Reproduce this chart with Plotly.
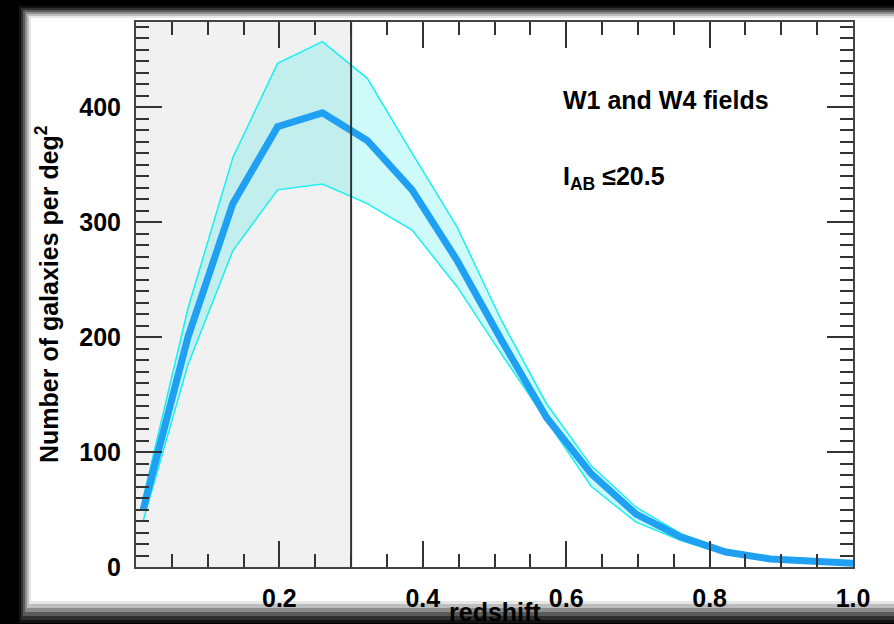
import plotly.graph_objects as go

# ---- data ----
redshift = [0.01, 0.0725, 0.135, 0.1975, 0.26, 0.3225, 0.385, 0.4475, 0.51,
            0.5725, 0.635, 0.6975, 0.76, 0.8225, 0.885, 0.9475, 1.01]
density = [50, 200, 316, 383, 395, 371, 328, 267, 197,
           130, 81, 46, 26, 13, 7, 4.5, 3]
upper = [60, 225, 356, 438, 457, 425, 360, 296, 214,
         142, 88, 52, 29, 15, 8, 5, 3.5]
lower = [40, 176, 275, 328, 333, 316, 293, 244, 185,
         127, 70, 39, 23, 11, 5.5, 3.5, 2.5]
x_tick_vals = [0.2, 0.4, 0.6, 0.8, 1.0]
x_tick_text = ["0.2", "0.4", "0.6", "0.8", "1.0"]
y_tick_vals = [0, 100, 200, 300, 400]
y_tick_text = ["0", "100", "200", "300", "400"]
shade_limit = 0.3

W, H = 894, 624
ML, MR, MT, MB = 136, 41, 22, 57
PW, PH = W - ML - MR, H - MT - MB

def px_x(p):
    return (p - ML) / PW

def px_y(p):
    return (H - MB - p) / PH

FONT = "Liberation Sans, Arial, Helvetica, sans-serif"
FS = 25

fig = go.Figure()
fig.add_trace(go.Scatter(x=redshift, y=upper, mode="lines",
                         line=dict(color="#19F0F0", width=1.5),
                         hoverinfo="skip", showlegend=False))
fig.add_trace(go.Scatter(x=redshift, y=lower, mode="lines",
                         line=dict(color="#19F0F0", width=1.5),
                         fill="tonexty", fillcolor="rgba(0,230,230,0.19)",
                         hoverinfo="skip", showlegend=False))
fig.add_trace(go.Scatter(x=redshift, y=density, mode="lines",
                         line=dict(color="#20A0F2", width=7),
                         showlegend=False))

shapes = []
# dark bands on the left, top and bottom with soft edges (light -> dark)
bands = [
    # (left_x, top_y, bottom_y, colour)
    (31, 18, 601, "#e6e6e6"),
    (29, 16, 604, "#bdbdbd"),
    (27, 14, 608, "#8c8c8c"),
    (25, 12, 612, "#5a5a5a"),
    (23, 10, 616, "#303030"),
    (21, 8, 620, "#121212"),
    (19, 6, 623, "#000000"),
]
for lx, ty, by, c in bands:
    shapes.append(dict(type="rect", xref="paper", yref="paper", layer="below",
                       x0=px_x(0), x1=px_x(lx), y0=px_y(H), y1=px_y(0),
                       fillcolor=c, line=dict(width=0)))
    shapes.append(dict(type="rect", xref="paper", yref="paper", layer="below",
                       x0=px_x(0), x1=px_x(W), y0=px_y(ty), y1=px_y(0),
                       fillcolor=c, line=dict(width=0)))
    shapes.append(dict(type="rect", xref="paper", yref="paper", layer="below",
                       x0=px_x(0), x1=px_x(W), y0=px_y(H), y1=px_y(by),
                       fillcolor=c, line=dict(width=0)))
shapes.append(dict(type="rect", xref="x", yref="paper", layer="below",
                   x0=0, x1=shade_limit, y0=0, y1=1,
                   fillcolor="#f1f1f1", line=dict(width=0)))
shapes.append(dict(type="line", xref="x", yref="paper", layer="above",
                   x0=shade_limit, x1=shade_limit, y0=0, y1=1,
                   line=dict(color="#333333", width=2)))

axis_common = dict(showline=True, linecolor="#444444", linewidth=2,
                   mirror="allticks", ticks="inside", tickcolor="#333333",
                   tickwidth=1.6, ticklen=26, showgrid=False, zeroline=False,
                   tickfont=dict(family=FONT, size=FS, color="black", weight="bold"),
                   ticklabelstandoff=8)

fig.update_xaxes(range=[0, 1], tickmode="array", tickvals=x_tick_vals,
                 ticktext=x_tick_text,
                 minor=dict(dtick=0.05, tick0=0, ticks="inside", ticklen=13,
                            tickcolor="#333333", tickwidth=1.6, showgrid=False),
                 **axis_common)
fig.update_yaxes(range=[0, 474], tickmode="array", tickvals=y_tick_vals,
                 ticktext=y_tick_text,
                 minor=dict(dtick=10, tick0=0, ticks="inside", ticklen=13,
                            tickcolor="#333333", tickwidth=1.6, showgrid=False),
                 **axis_common)

annotations = [
    dict(text="W1 and W4 fields", x=0.5926, y=406, xref="x", yref="y",
         xanchor="left", yanchor="middle", showarrow=False,
         font=dict(family=FONT, size=FS, color="black", weight="bold")),
    dict(text="I<sub>AB</sub> \u226420.5", x=0.5926, y=338, xref="x", yref="y",
         xanchor="left", yanchor="middle", showarrow=False,
         font=dict(family=FONT, size=FS, color="black", weight="bold")),
    dict(text="Number of galaxies per deg<sup>2</sup>", x=px_x(47), y=px_y(294),
         xref="paper", yref="paper", textangle=-90, xanchor="center",
         yanchor="middle", showarrow=False,
         font=dict(family=FONT, size=FS, color="black", weight="bold")),
    dict(text="redshift", x=0.5, y=px_y(612), xref="paper", yref="paper",
         xanchor="center", yanchor="middle", showarrow=False,
         font=dict(family=FONT, size=FS, color="black", weight="bold")),
]

fig.update_layout(width=W, height=H, margin=dict(l=ML, r=MR, t=MT, b=MB),
                  paper_bgcolor="white", plot_bgcolor="white",
                  shapes=shapes, annotations=annotations, showlegend=False)

post = (
    "var s=document.createElement('style');"
    "s.textContent='html,body{margin:0;padding:0;overflow:hidden;background:#fff;"
    "scrollbar-width:none;}::-webkit-scrollbar{display:none;width:0;height:0;}';"
    "document.head.appendChild(s);"
    "var d=document.getElementById('{plot_id}');"
    "if(d){d.style.position='absolute';d.style.left='0';d.style.top='0';}"
)

fig.write_html("out.html", config={"displayModeBar": False}, post_script=post)
